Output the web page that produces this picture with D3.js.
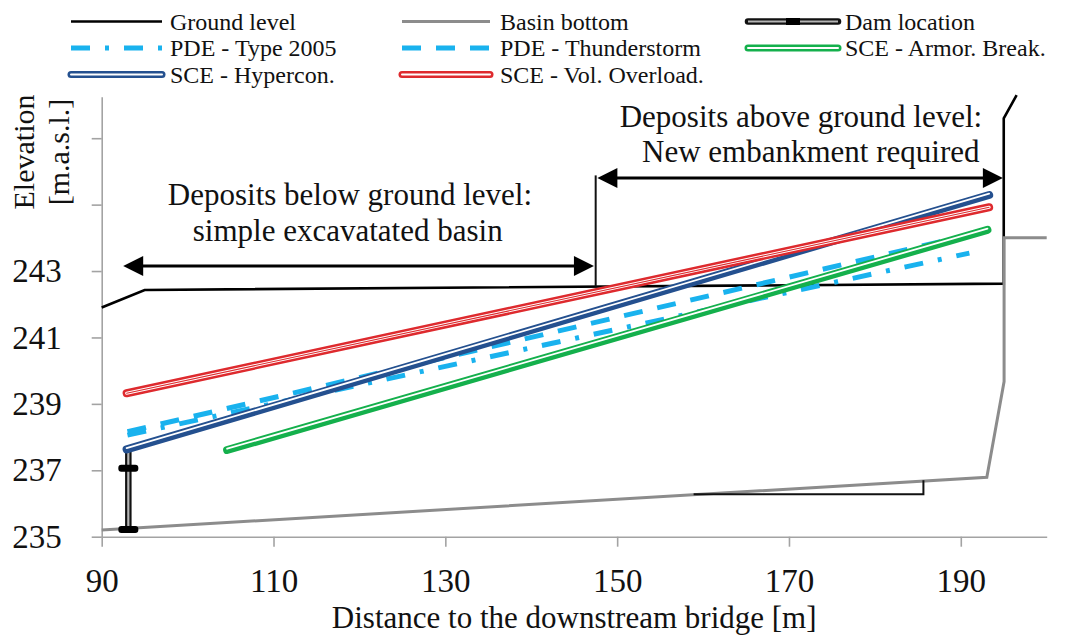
<!DOCTYPE html>
<html>
<head>
<meta charset="utf-8">
<script src="https://cdn.jsdelivr.net/npm/d3@7"></script>
<style>
  body { margin: 0; background: #fff; }
  svg { display: block; }
  svg text { font-family: "Liberation Serif", "Times New Roman", serif; }
</style>
</head>
<body>
<div id="chart"></div>
<script>
/* DATA */
// x = distance to downstream bridge [m], y = elevation [m.a.s.l.]
const groundX = [90, 95, 195, 195, 196.5];
const groundY = [241.9, 242.43, 242.62, 247.6, 248.3];
const basinX = [90, 193.03, 195.04, 195.04, 200];
const basinY = [235.2, 236.79, 239.67, 244.0, 244.0];
const damX = [93.1, 93.1];
const damY = [235.22, 237.63];
const damMarkY = [235.22, 237.06];
const pde2005X = [93, 191];
const pde2005Y = [238.06, 243.54];
const pdeThunderX = [93, 193.2];
const pdeThunderY = [238.16, 244.22];
const armorX = [104.6, 193.1];
const armorY = [237.61, 244.24];
const hyperconX = [92.9, 193.3];
const hyperconY = [237.63, 245.29];
const volOverX = [92.9, 193.3];
const volOverY = [239.32, 244.92];

const xTicks = [90, 110, 130, 150, 170, 190];
const yTicks = [235, 237, 239, 241, 243, 245, 247];
const yLabelled = [235, 237, 239, 241, 243];

const legendNames = [
  "Ground level", "Basin bottom", "Dam location",
  "PDE - Type 2005", "PDE - Thunderstorm", "SCE - Armor. Break.",
  "SCE - Hypercon.", "SCE - Vol. Overload."
];

/* CONSTANTS */
const width = 1068, height = 635;
const serif = "Liberation Serif";
const axisColor = "#a3a3a3";
const colors = {
  ground: "#000",
  basin: "#8c8c8c",
  pde: "#19b2ee",
  armor: "#14b04c",
  hyper: "#24508f",
  vol: "#de2a2e"
};

const svg = d3.select("#chart").append("svg")
  .attr("width", width)
  .attr("height", height)
  .attr("font-family", serif);

svg.append("rect").attr("width", width).attr("height", height).attr("fill", "#fff");

const xScale = d3.scaleLinear().domain([90, 200]).range([101.7, 1046.7]);
const yScale = d3.scaleLinear().domain([235, 248.25]).range([536.7, 96.7]);

const pts = (xs, ys) => xs.map((d, i) => [d, ys[i]]);
const line = d3.line().x(d => xScale(d[0])).y(d => yScale(d[1]));

/* AXES */
const xAxis = d3.axisBottom(xScale).tickValues(xTicks).tickSize(10).tickSizeOuter(0).tickFormat(d3.format("d"));
const yAxis = d3.axisLeft(yScale).tickValues(yTicks).tickSize(10).tickSizeOuter(0)
  .tickFormat(d => yLabelled.includes(d) ? d : "");

const gx = svg.append("g")
  .attr("transform", `translate(0,${yScale(235)})`)
  .call(xAxis);
gx.selectAll("text").attr("y", 32).attr("dy", "0.71em");

const gy = svg.append("g")
  .attr("transform", `translate(${xScale(90)},0)`)
  .call(yAxis);
gy.selectAll("text").attr("x", -40);

svg.selectAll("g").attr("font-family", serif);
svg.selectAll(".domain, .tick line").attr("stroke", axisColor).attr("stroke-width", 1.6);
svg.selectAll(".tick text")
  .attr("font-family", serif)
  .attr("font-size", 33)
  .attr("fill", "#111");

svg.append("text")
  .attr("x", (xScale(90) + xScale(200)) / 2)
  .attr("y", 628)
  .attr("text-anchor", "middle")
  .attr("font-family", serif)
  .attr("font-size", 31)
  .attr("fill", "#111")
  .text("Distance to the downstream bridge [m]");

const yTitle = svg.append("text")
  .attr("transform", "translate(0,152) rotate(-90)")
  .attr("text-anchor", "middle")
  .attr("font-family", serif)
  .attr("font-size", 30)
  .attr("fill", "#111");
yTitle.append("tspan").attr("x", 0).attr("y", 34).text("Elevation");
yTitle.append("tspan").attr("x", 0).attr("y", 69).text("[m.a.s.l.]");

/* SERIES */
// double line helper (Excel compound line look)
function doubleLine(data, color, offset, triple) {
  svg.append("path").datum(data).attr("d", line)
    .attr("fill", "none").attr("stroke", color).attr("stroke-width", 8).attr("stroke-linecap", "round");
  svg.append("path").datum(data).attr("d", line)
    .attr("transform", `translate(0,${offset})`)
    .attr("fill", "none").attr("stroke", "#fff").attr("stroke-width", triple ? 3 : 1.8).attr("stroke-linecap", "round");
  if (triple) {
    svg.append("path").datum(data).attr("d", line)
      .attr("fill", "none").attr("stroke", color).attr("stroke-width", 1.1).attr("stroke-linecap", "round");
  }
}

svg.append("path").datum(pts(groundX, groundY)).attr("d", line)
  .attr("fill", "none").attr("stroke", colors.ground).attr("stroke-width", 2.6);

svg.append("path").datum(pts(basinX, basinY)).attr("d", line)
  .attr("fill", "none").attr("stroke", colors.basin).attr("stroke-width", 3);

// dam
svg.append("path").datum(pts(damX, damY)).attr("d", line)
  .attr("fill", "none").attr("stroke", "#111").attr("stroke-width", 6.5);
svg.append("path").datum(pts(damX, damY)).attr("d", line)
  .attr("fill", "none").attr("stroke", "#b5b5b5").attr("stroke-width", 2.2);
svg.selectAll(".dam-mark").data(damMarkY).join("rect")
  .attr("class", "dam-mark")
  .attr("x", xScale(damX[0]) - 10).attr("y", d => yScale(d) - 3.5)
  .attr("width", 20).attr("height", 7).attr("rx", 3)
  .attr("fill", "#000");

svg.append("path").datum(pts(pde2005X, pde2005Y)).attr("d", line)
  .attr("fill", "none").attr("stroke", colors.pde).attr("stroke-width", 5)
  .attr("stroke-dasharray", "19,15,4,15");

svg.append("path").datum(pts(pdeThunderX, pdeThunderY)).attr("d", line)
  .attr("fill", "none").attr("stroke", colors.pde).attr("stroke-width", 5)
  .attr("stroke-dasharray", "19,15");

doubleLine(pts(armorX, armorY), colors.armor, -1.3, false);
doubleLine(pts(hyperconX, hyperconY), colors.hyper, -1.3, false);
doubleLine(pts(volOverX, volOverY), colors.vol, 0, true);

/* ANNOTATIONS */
const ann = svg.append("g");
// slope triangle under basin bottom
ann.append("path")
  .datum([[158.9, 236.28], [185.65, 236.28], [185.65, 236.7]])
  .attr("d", line).attr("fill", "none").attr("stroke", "#111").attr("stroke-width", 2);

function arrow(x0, x1, yv) {
  const y = yScale(yv), a = xScale(x0), b = xScale(x1);
  ann.append("line").attr("x1", a + 10).attr("x2", b - 10).attr("y1", y).attr("y2", y)
    .attr("stroke", "#000").attr("stroke-width", 3);
  ann.append("path").attr("d", `M${a},${y}L${a + 20},${y - 10}L${a + 20},${y + 10}Z`).attr("fill", "#000");
  ann.append("path").attr("d", `M${b},${y}L${b - 20},${y - 10}L${b - 20},${y + 10}Z`).attr("fill", "#000");
}
arrow(92.5, 147.3, 243.15);
arrow(147.7, 194.9, 245.8);

ann.append("path").datum([[147.5, 245.88], [147.5, 242.53]]).attr("d", line)
  .attr("stroke", "#111").attr("stroke-width", 2);

const annText = [
  { x: 97.7, y: 245.0, t: "Deposits below ground level:" },
  { x: 100.6, y: 243.9, t: "simple excavatated basin" },
  { x: 150.3, y: 247.34, t: "Deposits above ground level:" },
  { x: 152.9, y: 246.29, t: "New embankment required" }
];
ann.selectAll(".ann-text").data(annText).join("text")
  .attr("class", "ann-text")
  .attr("x", d => xScale(d.x)).attr("y", d => yScale(d.y))
  .attr("font-family", serif)
  .attr("font-size", 31).attr("fill", "#111")
  .text(d => d.t);

/* LEGEND */
const colX = [[71, 162, 170], [402, 490, 500], [748, 838, 845]];
const rowY = [21.5, 48, 74.5];
const leg = svg.append("g");
legendNames.forEach((name, i) => {
  const [x0, x1, tx] = colX[i % 3];
  const cy = rowY[Math.floor(i / 3)];
  const g = leg.append("g");
  if (i === 0 || i === 1) {
    g.append("line").attr("x1", x0).attr("x2", x1).attr("y1", cy).attr("y2", cy)
      .attr("stroke", i === 0 ? colors.ground : colors.basin).attr("stroke-width", i === 0 ? 2.6 : 3);
  } else if (i === 2) {
    g.append("line").attr("x1", x0).attr("x2", x1).attr("y1", cy).attr("y2", cy)
      .attr("stroke", "#111").attr("stroke-width", 6.5).attr("stroke-linecap", "round");
    g.append("line").attr("x1", x0).attr("x2", x1).attr("y1", cy).attr("y2", cy)
      .attr("stroke", "#b5b5b5").attr("stroke-width", 2.2);
    g.append("rect").attr("x", (x0 + x1) / 2 - 7).attr("y", cy - 3.5).attr("width", 14).attr("height", 7).attr("fill", "#000");
  } else if (i === 3 || i === 4) {
    g.append("line").attr("x1", x0).attr("x2", x1).attr("y1", cy).attr("y2", cy)
      .attr("stroke", colors.pde).attr("stroke-width", 5)
      .attr("stroke-dasharray", i === 3 ? "19,15,4,15" : "19,15");
  } else {
    const c = i === 5 ? colors.armor : i === 6 ? colors.hyper : colors.vol;
    g.append("line").attr("x1", x0).attr("x2", x1).attr("y1", cy).attr("y2", cy)
      .attr("stroke", c).attr("stroke-width", 7).attr("stroke-linecap", "round");
    g.append("line").attr("x1", x0).attr("x2", x1).attr("y1", cy).attr("y2", cy)
      .attr("stroke", "#fff").attr("stroke-width", 2).attr("stroke-linecap", "round");
  }
  g.append("text").attr("x", tx).attr("y", cy + 8)
    .attr("font-family", serif)
    .attr("font-size", 24).attr("fill", "#111").text(name);
});
</script>
</body>
</html>
